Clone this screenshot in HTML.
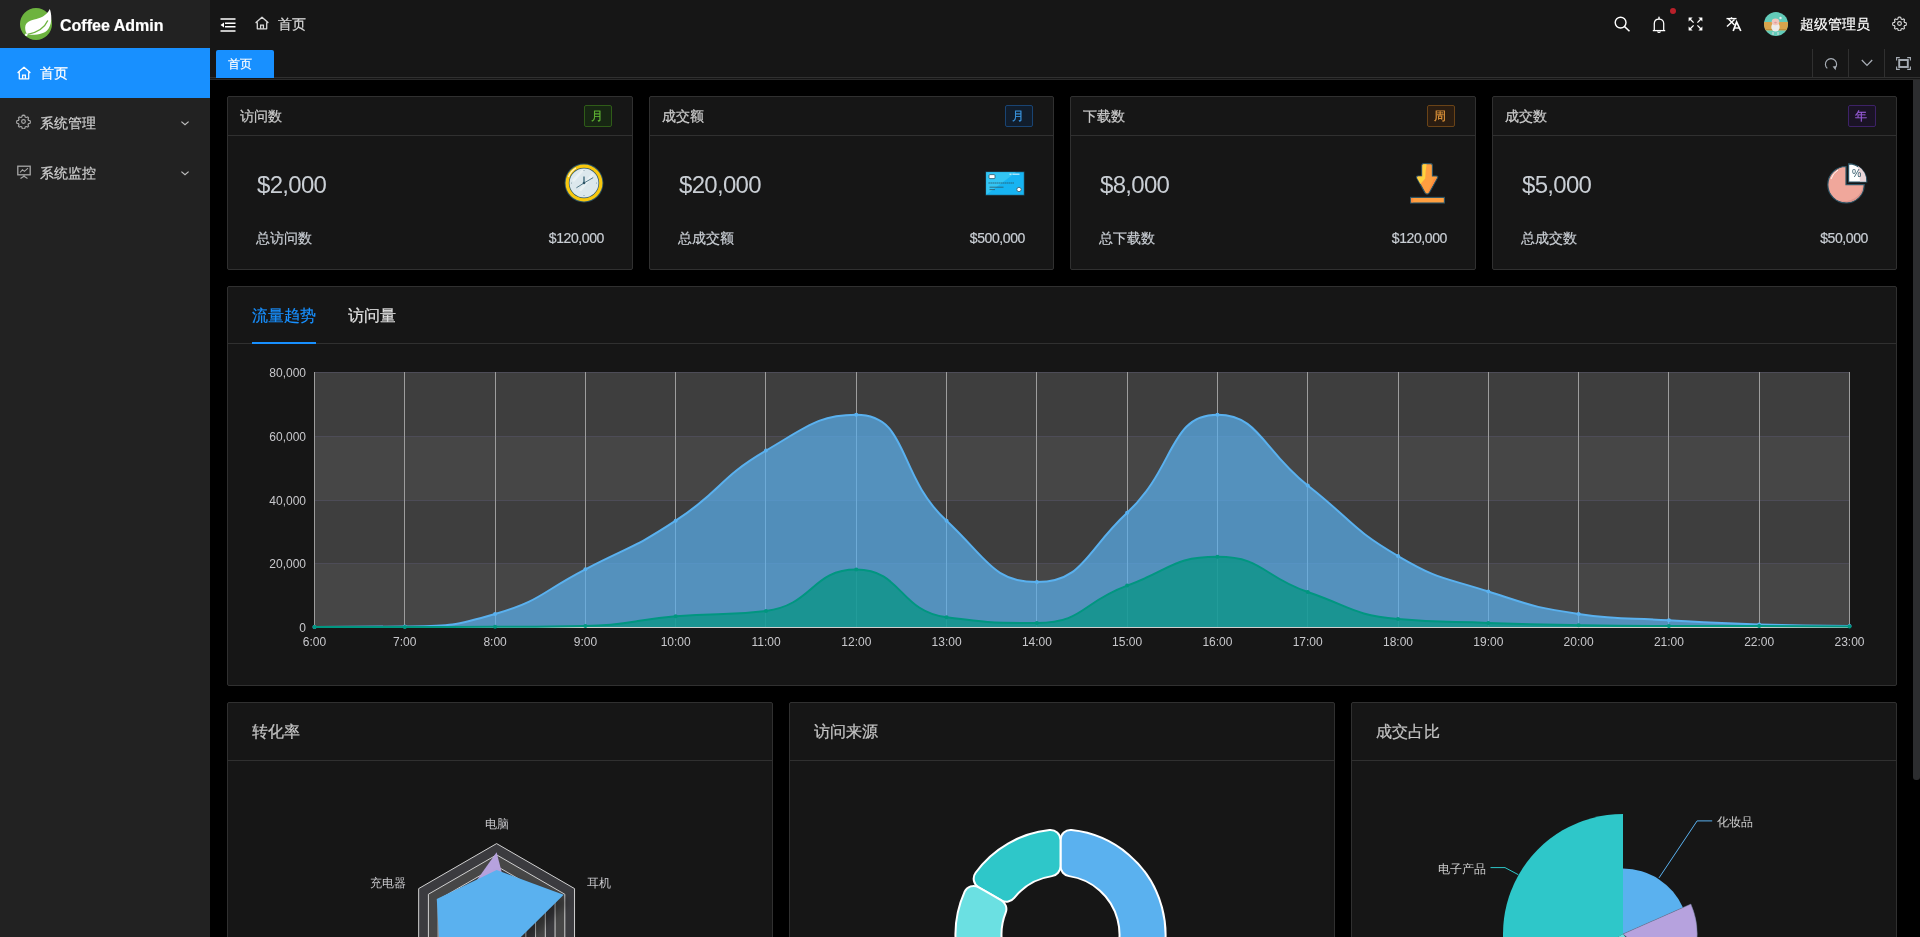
<!DOCTYPE html><html><head><meta charset="utf-8"><title>Coffee Admin</title><style>
*{box-sizing:border-box;margin:0;padding:0}
html,body{width:1920px;height:937px;overflow:hidden;background:#000;font-family:"Liberation Sans",sans-serif;}
.abs{position:absolute}
.t{position:absolute;white-space:nowrap;line-height:1;-webkit-text-stroke:0.2px currentColor}
.big{-webkit-text-stroke:0}
#root{position:absolute;left:0;top:0;width:1920px;height:937px;overflow:hidden;will-change:transform}
.card{position:absolute;background:#161616;border:1px solid #303030;border-radius:2px}
</style></head><body><div id="root">
<div class="abs" style="left:0;top:0;width:210px;height:937px;background:#222222"></div>
<svg class="abs" style="left:20px;top:8px" width="32" height="32" viewBox="0 0 32 32">
<circle cx="16" cy="16" r="16" fill="#6db33f"/>
<path d="M29.8 1.1 C31.8 7 32.2 14.5 28.6 20.6 C25.6 25.6 18.5 27.2 8.4 26.8 C6 25.8 5 22.2 5.2 19.2 C5.6 14.6 9.6 12.6 14.2 11.6 C20.2 10.3 26.4 8.2 29.8 1.1 Z" fill="#fff"/>
<path d="M7.6 26.4 C16 24.6 24.2 20.6 27.8 12.4" fill="none" stroke="#6db33f" stroke-width="1.3"/>
<circle cx="6.3" cy="26.8" r="1.3" fill="#fff"/>
</svg>
<div class="t" style="left:60px;top:18px;font-size:16px;font-weight:bold;color:#fff">Coffee Admin</div>
<div class="abs" style="left:0;top:48px;width:210px;height:50px;background:#1890ff"></div>
<svg class="abs" style="left:17px;top:66px" width="14" height="14" viewBox="0 0 14 14"><path d="M7 1.2 L1 6.6 L2.3 6.6 L2.3 12.8 L11.7 12.8 L11.7 6.6 L13 6.6 Z" fill="none" stroke="#fff" stroke-width="1.3" stroke-linejoin="round"/><path d="M5.6 12.8 V9.2 H8.4 V12.8" fill="none" stroke="#fff" stroke-width="1.3"/></svg>
<div class="t" style="left:40px;top:66px;font-size:14px;color:#fff">首页</div>
<svg class="abs" style="left:16px;top:114px" width="15" height="15" viewBox="0 0 24 24"><path d="M12 1.8l2 .3.6 2.6 1.6.9 2.5-.9 1.4 1.4-.9 2.5.9 1.6 2.6.6.3 2v0l-.3 2-2.6.6-.9 1.6.9 2.5-1.4 1.4-2.5-.9-1.6.9-.6 2.6-2 .3-2-.3-.6-2.6-1.6-.9-2.5.9-1.4-1.4.9-2.5-.9-1.6-2.6-.6-.3-2 .3-2 2.6-.6.9-1.6-.9-2.5 1.4-1.4 2.5.9 1.6-.9.6-2.6z" fill="none" stroke="#a6a6a6" stroke-width="1.9" stroke-linejoin="round"/><circle cx="12" cy="12" r="3" fill="none" stroke="#a6a6a6" stroke-width="1.9"/></svg>
<div class="t" style="left:40px;top:116px;font-size:14px;color:#cfcfcf">系统管理</div>
<svg class="abs" style="left:180px;top:120px" width="10" height="6" viewBox="0 0 10 6"><path d="M1.4 1.6 L5 4.8 L8.6 1.6" fill="none" stroke="#bfbfbf" stroke-width="1.2"/></svg>
<svg class="abs" style="left:17px;top:165px" width="14" height="14" viewBox="0 0 14 14"><rect x="0.8" y="1.2" width="12.4" height="8.6" fill="none" stroke="#a6a6a6" stroke-width="1.3"/><path d="M3 7.5 L5.5 4.8 L7.5 6.4 L11 3.2" fill="none" stroke="#a6a6a6" stroke-width="1.1"/><path d="M7 10 V11.6 M3.5 13.4 L7 11.2 L10.5 13.4" fill="none" stroke="#a6a6a6" stroke-width="1.2"/></svg>
<div class="t" style="left:40px;top:166px;font-size:14px;color:#cfcfcf">系统监控</div>
<svg class="abs" style="left:180px;top:170px" width="10" height="6" viewBox="0 0 10 6"><path d="M1.4 1.6 L5 4.8 L8.6 1.6" fill="none" stroke="#bfbfbf" stroke-width="1.2"/></svg>
<div class="abs" style="left:210px;top:0;width:1710px;height:80px;background:#161616"></div>
<svg class="abs" style="left:220px;top:18px" width="16" height="14" viewBox="0 0 16 14"><path d="M0.5 1 H15.5 M5 5.2 H15.5 M5 8.8 H15.5 M0.5 13 H15.5" stroke="#fff" stroke-width="1.4"/><path d="M0.5 7 L4 4.4 V9.6 Z" fill="#fff"/></svg>
<svg class="abs" style="left:255px;top:16px" width="14" height="14" viewBox="0 0 14 14"><path d="M7 1.2 L1 6.6 L2.3 6.6 L2.3 12.8 L11.7 12.8 L11.7 6.6 L13 6.6 Z" fill="none" stroke="#d9d9d9" stroke-width="1.3" stroke-linejoin="round"/><path d="M5.6 12.8 V9.2 H8.4 V12.8" fill="none" stroke="#d9d9d9" stroke-width="1.3"/></svg>
<div class="t" style="left:278px;top:17px;font-size:14px;color:#d9d9d9">首页</div>
<svg class="abs" style="left:1614px;top:16px" width="17" height="16" viewBox="0 0 17 16"><circle cx="6.6" cy="6.6" r="5.4" fill="none" stroke="#fff" stroke-width="1.4"/><path d="M10.6 10.6 L15.5 15.3" stroke="#fff" stroke-width="1.5"/></svg>
<svg class="abs" style="left:1652px;top:16px" width="14" height="18" viewBox="0 0 14 18"><path d="M2.3 14.4 V7.6 C2.3 4.8 4.3 3 7 3 C9.7 3 11.7 4.8 11.7 7.6 V14.4" fill="none" stroke="#fff" stroke-width="1.25"/><path d="M0.8 14.6 H13.2" stroke="#fff" stroke-width="1.3"/><path d="M5.6 15.4 A1.45 1.45 0 0 0 8.4 15.4" fill="none" stroke="#fff" stroke-width="1.2"/><rect x="6.3" y="0.7" width="1.4" height="2.4" fill="#fff"/></svg>
<div class="abs" style="left:1670px;top:8px;width:6px;height:6px;border-radius:3px;background:#b9202a"></div>
<svg class="abs" style="left:1688px;top:17px" width="15" height="14" viewBox="0 0 15 14"><g stroke="#fff" stroke-width="1.3"><path d="M2 2 L5.6 5.6"/><path d="M13 2 L9.4 5.6"/><path d="M2 12 L5.6 8.4"/><path d="M13 12 L9.4 8.4"/></g><g fill="#fff"><path d="M0.6 0.6 H4.6 L0.6 4.6Z"/><path d="M14.4 0.6 H10.4 L14.4 4.6Z"/><path d="M0.6 13.4 H4.6 L0.6 9.4Z"/><path d="M14.4 13.4 H10.4 L14.4 9.4Z"/></g></svg>
<svg class="abs" style="left:1726px;top:17px" width="16" height="15" viewBox="0 0 16 15"><g stroke="#fff" fill="none" stroke-width="1.4"><path d="M0.5 1.6 H10.5"/><path d="M5.5 0.2 V1.6"/><path d="M2.5 2 L8.5 8"/><path d="M8.5 2.5 L1 9.6"/><path d="M7.2 14 L10.6 5 L14.8 14" stroke-width="1.7"/><path d="M8.6 11 H13.2"/></g></svg>
<svg class="abs" style="left:1764px;top:12px" width="24" height="24" viewBox="0 0 24 24"><defs><clipPath id="av"><circle cx="12" cy="12" r="12"/></clipPath></defs><g clip-path="url(#av)"><rect width="24" height="24" fill="#62cbb9"/><rect x="0" y="10" width="24" height="8.5" fill="#d8a44c"/><path d="M0 17.5 H24" stroke="#b98a3a" stroke-width="0.8"/><ellipse cx="11.5" cy="15" rx="4.2" ry="4.6" fill="#ececec"/><ellipse cx="11.5" cy="9.8" rx="3.8" ry="3.4" fill="#f0c6bc"/><ellipse cx="11.5" cy="10.6" rx="1.3" ry="0.9" fill="#e39a9a"/><circle cx="16.5" cy="6" r="1.2" fill="#e8eeee"/><path d="M9 20 V23 M14 20 V23" stroke="#ddd" stroke-width="1"/></g></svg>
<div class="t" style="left:1800px;top:17px;font-size:14px;color:#fff">超级管理员</div>
<svg class="abs" style="left:1892px;top:16px" width="15" height="15" viewBox="0 0 24 24"><path d="M12 1.8l2 .3.6 2.6 1.6.9 2.5-.9 1.4 1.4-.9 2.5.9 1.6 2.6.6.3 2v0l-.3 2-2.6.6-.9 1.6.9 2.5-1.4 1.4-2.5-.9-1.6.9-.6 2.6-2 .3-2-.3-.6-2.6-1.6-.9-2.5.9-1.4-1.4.9-2.5-.9-1.6-2.6-.6-.3-2 .3-2 2.6-.6.9-1.6-.9-2.5 1.4-1.4 2.5.9 1.6-.9.6-2.6z" fill="none" stroke="#d9d9d9" stroke-width="1.8" stroke-linejoin="round"/><circle cx="12" cy="12" r="3" fill="none" stroke="#d9d9d9" stroke-width="1.8"/></svg>
<div class="abs" style="left:210px;top:77px;width:1710px;height:1px;background:#303030"></div>
<div class="abs" style="left:210px;top:79px;width:1710px;height:1px;background:#2a2a2a"></div>
<div class="abs" style="left:216px;top:50px;width:58px;height:28px;background:#1890ff;border-radius:2px 2px 0 0"></div>
<div class="t" style="left:228px;top:58px;font-size:12px;color:#fff">首页</div>
<div class="abs" style="left:1812px;top:49px;width:1px;height:28px;background:#303030"></div>
<div class="abs" style="left:1848px;top:49px;width:1px;height:28px;background:#303030"></div>
<div class="abs" style="left:1884px;top:49px;width:1px;height:28px;background:#303030"></div>
<svg class="abs" style="left:1824px;top:57px" width="14" height="14" viewBox="0 0 14 14"><path d="M3.3 11.4 A5.6 5.6 0 1 1 10.7 11.4" fill="none" stroke="#a8aeb6" stroke-width="1.15"/><path d="M8.6 9.6 L11.6 13.2 L12.1 9 Z" fill="#a8aeb6"/></svg>
<svg class="abs" style="left:1861px;top:59px" width="12" height="8" viewBox="0 0 12 8"><path d="M0.8 1 L6 6.4 L11.2 1" fill="none" stroke="#a8aeb6" stroke-width="1.3"/></svg>
<svg class="abs" style="left:1896px;top:57px" width="15" height="13" viewBox="0 0 15 13"><g fill="none" stroke="#a8aeb6" stroke-width="1.1"><path d="M0.6 3.6 V0.6 H3.8"/><path d="M11.2 0.6 H14.4 V3.6"/><path d="M0.6 9.4 V12.4 H3.8"/><path d="M11.2 12.4 H14.4 V9.4"/></g><rect x="3.2" y="3" width="8.6" height="7" fill="none" stroke="#a8aeb6" stroke-width="1.9"/></svg>
<div class="abs" style="left:1913px;top:80px;width:7px;height:700px;background:#2c2d2f;border-radius:0 0 3px 3px"></div>
<div class="card" style="left:227px;top:96px;width:406px;height:174px"></div>
<div class="abs" style="left:228px;top:135px;width:404px;height:1px;background:#303030"></div>
<div class="t" style="left:240px;top:109px;font-size:14px;color:rgba(255,255,255,0.72)">访问数</div>
<div class="abs" style="left:584px;top:105px;width:28px;height:22px;border:1px solid #2f5c18;background:#172613;border-radius:2px"></div>
<div class="t" style="left:591px;top:110px;font-size:12px;color:#62b935">月</div>
<div class="t big" style="left:257px;top:173px;font-size:24px;color:#c9ced4;letter-spacing:-0.7px">$2,000</div>
<div class="t" style="left:256px;top:231px;font-size:14px;color:#c9ced4">总访问数</div>
<div class="t" style="right:1316px;top:231px;font-size:14px;color:#c9ced4;letter-spacing:-0.4px">$120,000</div>
<svg class="abs" style="left:564px;top:163px" width="40" height="40" viewBox="0 0 40 40"><circle cx="20" cy="20" r="19.4" fill="#2d5566"/><circle cx="20" cy="20" r="18.5" fill="#f9c80e"/><circle cx="20" cy="20" r="15.2" fill="#2d5566"/><circle cx="20" cy="20" r="14.5" fill="#dce8ed"/><path d="M8 17 L18 6.5 L21 6.5 L10 19 Z M15 27 L28 10 L30 11.5 L17 28.5Z" fill="#e9f1f4"/><path d="M4.5 14 A16.5 16.5 0 0 1 12 5" stroke="#fff6c8" stroke-width="1.2" fill="none"/><path d="M20 20 V13.5" stroke="#3f6b7d" stroke-width="1.4"/><path d="M20 20 L29.2 14.6 M20 20 L12.4 24.8" stroke="#3f6b7d" stroke-width="0.9"/><circle cx="20" cy="20" r="1.3" fill="#2d5566"/><g fill="#7f9aa6"><circle cx="20" cy="7.5" r="0.55"/><circle cx="32.5" cy="20" r="0.55"/><circle cx="7.5" cy="20" r="0.55"/><circle cx="20" cy="32.5" r="0.55"/></g></svg>
<div class="card" style="left:649px;top:96px;width:405px;height:174px"></div>
<div class="abs" style="left:650px;top:135px;width:403px;height:1px;background:#303030"></div>
<div class="t" style="left:662px;top:109px;font-size:14px;color:rgba(255,255,255,0.72)">成交额</div>
<div class="abs" style="left:1005px;top:105px;width:28px;height:22px;border:1px solid #194473;background:#111d2c;border-radius:2px"></div>
<div class="t" style="left:1012px;top:110px;font-size:12px;color:#3c9ae8">月</div>
<div class="t big" style="left:679px;top:173px;font-size:24px;color:#c9ced4;letter-spacing:-0.7px">$20,000</div>
<div class="t" style="left:678px;top:231px;font-size:14px;color:#c9ced4">总成交额</div>
<div class="t" style="right:895px;top:231px;font-size:14px;color:#c9ced4;letter-spacing:-0.4px">$500,000</div>
<svg class="abs" style="left:985px;top:171px" width="40" height="25" viewBox="0 0 40 25"><rect x="0.5" y="0.5" width="39" height="24" fill="#1f4a5c"/><rect x="1.2" y="1.2" width="37.6" height="22.6" fill="#17b4f2"/><path d="M1.2 23.8 L1.2 1.2 L31 1.2 Z" fill="#33c5f3"/><rect x="4" y="3.6" width="6" height="4" rx="1" fill="#fff" stroke="#2d5566" stroke-width="0.8"/><path d="M3.5 12 H29" stroke="#2d5566" stroke-width="1" stroke-dasharray="1.3 0.7"/><path d="M4.5 16.2 H18.5 M4.5 18.6 H10" stroke="#2d5566" stroke-width="0.8"/><path d="M24.5 3.2 H26.5 M27.5 3.2 H34.5" stroke="#fff" stroke-width="0.9"/><circle cx="34" cy="18.5" r="2.2" fill="#fff" stroke="#2d5566" stroke-width="0.8"/></svg>
<div class="card" style="left:1070px;top:96px;width:406px;height:174px"></div>
<div class="abs" style="left:1071px;top:135px;width:404px;height:1px;background:#303030"></div>
<div class="t" style="left:1083px;top:109px;font-size:14px;color:rgba(255,255,255,0.72)">下载数</div>
<div class="abs" style="left:1427px;top:105px;width:28px;height:22px;border:1px solid #6a4317;background:#2b1d11;border-radius:2px"></div>
<div class="t" style="left:1434px;top:110px;font-size:12px;color:#e89a3c">周</div>
<div class="t big" style="left:1100px;top:173px;font-size:24px;color:#c9ced4;letter-spacing:-0.7px">$8,000</div>
<div class="t" style="left:1099px;top:231px;font-size:14px;color:#c9ced4">总下载数</div>
<div class="t" style="right:473px;top:231px;font-size:14px;color:#c9ced4;letter-spacing:-0.4px">$120,000</div>
<svg class="abs" style="left:1410px;top:163px" width="35" height="41" viewBox="0 0 35 41"><path d="M11.8 2.6 Q11.8 0.6 13.8 0.6 H20.4 Q22.4 0.6 22.4 2.6 V13 H26.2 Q28.6 13 27.4 15.1 L19.3 29.6 Q17.1 32.6 14.9 29.6 L6.8 15.1 Q5.6 13 8 13 H11.8 Z" fill="#ff9f40" stroke="#2d5566" stroke-width="1.1"/><path d="M12.4 2.2 Q12.6 1.2 14 1.2 H16.6 Q15.4 8 15.2 15.5 L10.4 21 L7.2 15.2 Q6.9 13.6 8.4 13.6 H12.4 Z" fill="#ffd23f"/><path d="M26.8 14.8 L18.8 29.2 L17.8 29.4 L23.6 16.2 Z" fill="#ff8b3d"/><rect x="0.6" y="34.4" width="33.8" height="5.6" fill="#ff9f40" stroke="#2d5566" stroke-width="1.1"/><rect x="1.2" y="35" width="2" height="4.4" fill="#ff8b3d"/></svg>
<div class="card" style="left:1492px;top:96px;width:405px;height:174px"></div>
<div class="abs" style="left:1493px;top:135px;width:403px;height:1px;background:#303030"></div>
<div class="t" style="left:1505px;top:109px;font-size:14px;color:rgba(255,255,255,0.72)">成交数</div>
<div class="abs" style="left:1848px;top:105px;width:28px;height:22px;border:1px solid #3d2267;background:#1a1325;border-radius:2px"></div>
<div class="t" style="left:1855px;top:110px;font-size:12px;color:#9a5ddc">年</div>
<div class="t big" style="left:1522px;top:173px;font-size:24px;color:#c9ced4;letter-spacing:-0.7px">$5,000</div>
<div class="t" style="left:1521px;top:231px;font-size:14px;color:#c9ced4">总成交数</div>
<div class="t" style="right:52px;top:231px;font-size:14px;color:#c9ced4;letter-spacing:-0.4px">$50,000</div>
<svg class="abs" style="left:1827px;top:163px" width="42" height="41" viewBox="0 0 42 41"><path d="M19 3.5 A18.2 18.2 0 1 0 37.2 21.7 H19 Z" fill="#f0a79b" stroke="#2d5566" stroke-width="1.2"/><path d="M36 22 A18 18 0 0 1 12 37 A16 16 0 0 0 36 22 Z" fill="#dc958d"/><path d="M4 16 A16 16 0 0 1 11 7" stroke="#fff" stroke-width="0.9" fill="none"/><path d="M21.6 0.8 A18.2 18.2 0 0 1 39.8 19 H21.6 Z" fill="#ffffff" stroke="#2d5566" stroke-width="1.2"/><path d="M31 3 A18 18 0 0 1 39.2 18.4 H33 Z" fill="#ead6d9"/><text x="29.6" y="13.9" font-size="10.5" font-family="Liberation Sans" fill="#2d5566" text-anchor="middle">%</text></svg>
<div class="card" style="left:227px;top:286px;width:1670px;height:400px"></div>
<div class="abs" style="left:228px;top:343px;width:1668px;height:1px;background:#303030"></div>
<div class="t" style="left:252px;top:308px;font-size:16px;color:#1890ff">流量趋势</div>
<div class="t" style="left:348px;top:308px;font-size:16px;color:rgba(255,255,255,0.85)">访问量</div>
<div class="abs" style="left:252px;top:342px;width:64px;height:2px;background:#1890ff"></div>
<svg class="abs" style="left:0;top:0" width="1920" height="937" viewBox="0 0 1920 937">
<rect x="314.5" y="372" width="1535.0" height="64" fill="#3e3e3e"/>
<rect x="314.5" y="436" width="1535.0" height="64" fill="#464646"/>
<rect x="314.5" y="500" width="1535.0" height="63" fill="#3e3e3e"/>
<rect x="314.5" y="563" width="1535.0" height="64" fill="#464646"/>
<path d="M314.5 372.5 H1849.5" stroke="#4d4c57" stroke-width="1"/>
<path d="M314.5 436.5 H1849.5" stroke="#4d4c57" stroke-width="1"/>
<path d="M314.5 500.5 H1849.5" stroke="#4d4c57" stroke-width="1"/>
<path d="M314.5 563.5 H1849.5" stroke="#4d4c57" stroke-width="1"/>
<path d="M314.5 372.0 V627.0" stroke="#9d9d9d" stroke-width="1"/>
<path d="M404.5 372.0 V627.0" stroke="#9d9d9d" stroke-width="1"/>
<path d="M495.5 372.0 V627.0" stroke="#9d9d9d" stroke-width="1"/>
<path d="M585.5 372.0 V627.0" stroke="#9d9d9d" stroke-width="1"/>
<path d="M675.5 372.0 V627.0" stroke="#9d9d9d" stroke-width="1"/>
<path d="M765.5 372.0 V627.0" stroke="#9d9d9d" stroke-width="1"/>
<path d="M856.5 372.0 V627.0" stroke="#9d9d9d" stroke-width="1"/>
<path d="M946.5 372.0 V627.0" stroke="#9d9d9d" stroke-width="1"/>
<path d="M1036.5 372.0 V627.0" stroke="#9d9d9d" stroke-width="1"/>
<path d="M1127.5 372.0 V627.0" stroke="#9d9d9d" stroke-width="1"/>
<path d="M1217.5 372.0 V627.0" stroke="#9d9d9d" stroke-width="1"/>
<path d="M1307.5 372.0 V627.0" stroke="#9d9d9d" stroke-width="1"/>
<path d="M1398.5 372.0 V627.0" stroke="#9d9d9d" stroke-width="1"/>
<path d="M1488.5 372.0 V627.0" stroke="#9d9d9d" stroke-width="1"/>
<path d="M1578.5 372.0 V627.0" stroke="#9d9d9d" stroke-width="1"/>
<path d="M1668.5 372.0 V627.0" stroke="#9d9d9d" stroke-width="1"/>
<path d="M1759.5 372.0 V627.0" stroke="#9d9d9d" stroke-width="1"/>
<path d="M1849.5 372.0 V627.0" stroke="#9d9d9d" stroke-width="1"/>
<path d="M314.5 627.5 H1849.5" stroke="#cfcfcf" stroke-width="1"/>
<path d="M314.50 627.00 C314.50 627.00 359.86 627.00 404.79 626.50 C450.16 626.00 452.20 626.50 495.09 614.00 C542.49 600.18 540.63 592.42 585.38 569.30 C630.93 545.77 632.98 548.76 675.68 520.70 C723.27 489.41 717.16 479.23 765.97 450.60 C807.45 426.28 819.15 414.80 856.26 414.80 C909.44 414.80 895.96 473.83 946.56 520.70 C986.26 557.48 992.66 582.10 1036.85 582.10 C1082.95 582.10 1085.53 551.26 1127.15 512.70 C1175.82 467.61 1168.92 414.80 1217.44 414.80 C1259.22 414.80 1262.56 450.18 1307.74 485.50 C1352.86 520.78 1349.14 527.30 1398.03 556.00 C1439.43 580.30 1442.23 576.72 1488.32 591.50 C1532.52 605.67 1532.85 607.32 1578.62 613.90 C1623.15 620.30 1623.73 617.62 1668.91 620.30 C1714.03 622.97 1714.04 623.20 1759.21 624.60 C1804.33 626.00 1849.50 626.00 1849.50 626.00 L1849.50 627.00 L314.50 627.00 Z" fill="#5ab1ef" fill-opacity="0.7"/>
<path d="M314.50 627.00 C314.50 627.00 359.86 627.00 404.79 626.50 C450.16 626.00 452.20 626.50 495.09 614.00 C542.49 600.18 540.63 592.42 585.38 569.30 C630.93 545.77 632.98 548.76 675.68 520.70 C723.27 489.41 717.16 479.23 765.97 450.60 C807.45 426.28 819.15 414.80 856.26 414.80 C909.44 414.80 895.96 473.83 946.56 520.70 C986.26 557.48 992.66 582.10 1036.85 582.10 C1082.95 582.10 1085.53 551.26 1127.15 512.70 C1175.82 467.61 1168.92 414.80 1217.44 414.80 C1259.22 414.80 1262.56 450.18 1307.74 485.50 C1352.86 520.78 1349.14 527.30 1398.03 556.00 C1439.43 580.30 1442.23 576.72 1488.32 591.50 C1532.52 605.67 1532.85 607.32 1578.62 613.90 C1623.15 620.30 1623.73 617.62 1668.91 620.30 C1714.03 622.97 1714.04 623.20 1759.21 624.60 C1804.33 626.00 1849.50 626.00 1849.50 626.00" fill="none" stroke="#5ab1ef" stroke-width="2"/>
<circle cx="314.50" cy="627.00" r="2" fill="#5ab1ef"/>
<circle cx="404.79" cy="626.50" r="2" fill="#5ab1ef"/>
<circle cx="495.09" cy="614.00" r="2" fill="#5ab1ef"/>
<circle cx="585.38" cy="569.30" r="2" fill="#5ab1ef"/>
<circle cx="675.68" cy="520.70" r="2" fill="#5ab1ef"/>
<circle cx="765.97" cy="450.60" r="2" fill="#5ab1ef"/>
<circle cx="856.26" cy="414.80" r="2" fill="#5ab1ef"/>
<circle cx="946.56" cy="520.70" r="2" fill="#5ab1ef"/>
<circle cx="1036.85" cy="582.10" r="2" fill="#5ab1ef"/>
<circle cx="1127.15" cy="512.70" r="2" fill="#5ab1ef"/>
<circle cx="1217.44" cy="414.80" r="2" fill="#5ab1ef"/>
<circle cx="1307.74" cy="485.50" r="2" fill="#5ab1ef"/>
<circle cx="1398.03" cy="556.00" r="2" fill="#5ab1ef"/>
<circle cx="1488.32" cy="591.50" r="2" fill="#5ab1ef"/>
<circle cx="1578.62" cy="613.90" r="2" fill="#5ab1ef"/>
<circle cx="1668.91" cy="620.30" r="2" fill="#5ab1ef"/>
<circle cx="1759.21" cy="624.60" r="2" fill="#5ab1ef"/>
<circle cx="1849.50" cy="626.00" r="2" fill="#5ab1ef"/>
<path d="M314.50 627.00 C314.50 627.00 359.65 627.00 404.79 627.00 C449.94 627.00 449.94 627.00 495.09 626.80 C540.24 626.60 540.36 626.80 585.38 626.00 C630.66 625.20 630.44 620.08 675.68 616.30 C720.73 612.53 722.93 616.30 765.97 610.90 C813.22 604.97 811.75 569.60 856.26 569.60 C902.05 569.60 898.68 610.98 946.56 617.30 C988.97 622.90 993.44 622.90 1036.85 622.90 C1083.73 622.90 1081.32 602.38 1127.15 585.60 C1171.61 569.33 1172.80 556.80 1217.44 556.80 C1263.09 556.80 1261.95 576.26 1307.74 592.00 C1352.25 607.31 1351.94 614.73 1398.03 618.90 C1442.24 622.90 1443.16 621.32 1488.32 622.90 C1533.46 624.47 1533.46 624.42 1578.62 625.20 C1623.76 625.97 1623.76 626.00 1668.91 626.00 C1714.06 626.00 1714.06 626.00 1759.21 626.00 C1804.35 626.00 1849.50 626.50 1849.50 626.50 L1849.50 627.00 L314.50 627.00 Z" fill="#019680" fill-opacity="0.7"/>
<path d="M314.50 627.00 C314.50 627.00 359.65 627.00 404.79 627.00 C449.94 627.00 449.94 627.00 495.09 626.80 C540.24 626.60 540.36 626.80 585.38 626.00 C630.66 625.20 630.44 620.08 675.68 616.30 C720.73 612.53 722.93 616.30 765.97 610.90 C813.22 604.97 811.75 569.60 856.26 569.60 C902.05 569.60 898.68 610.98 946.56 617.30 C988.97 622.90 993.44 622.90 1036.85 622.90 C1083.73 622.90 1081.32 602.38 1127.15 585.60 C1171.61 569.33 1172.80 556.80 1217.44 556.80 C1263.09 556.80 1261.95 576.26 1307.74 592.00 C1352.25 607.31 1351.94 614.73 1398.03 618.90 C1442.24 622.90 1443.16 621.32 1488.32 622.90 C1533.46 624.47 1533.46 624.42 1578.62 625.20 C1623.76 625.97 1623.76 626.00 1668.91 626.00 C1714.06 626.00 1714.06 626.00 1759.21 626.00 C1804.35 626.00 1849.50 626.50 1849.50 626.50" fill="none" stroke="#019680" stroke-width="2"/>
<circle cx="314.50" cy="627.00" r="2" fill="#019680"/>
<circle cx="404.79" cy="627.00" r="2" fill="#019680"/>
<circle cx="495.09" cy="626.80" r="2" fill="#019680"/>
<circle cx="585.38" cy="626.00" r="2" fill="#019680"/>
<circle cx="675.68" cy="616.30" r="2" fill="#019680"/>
<circle cx="765.97" cy="610.90" r="2" fill="#019680"/>
<circle cx="856.26" cy="569.60" r="2" fill="#019680"/>
<circle cx="946.56" cy="617.30" r="2" fill="#019680"/>
<circle cx="1036.85" cy="622.90" r="2" fill="#019680"/>
<circle cx="1127.15" cy="585.60" r="2" fill="#019680"/>
<circle cx="1217.44" cy="556.80" r="2" fill="#019680"/>
<circle cx="1307.74" cy="592.00" r="2" fill="#019680"/>
<circle cx="1398.03" cy="618.90" r="2" fill="#019680"/>
<circle cx="1488.32" cy="622.90" r="2" fill="#019680"/>
<circle cx="1578.62" cy="625.20" r="2" fill="#019680"/>
<circle cx="1668.91" cy="626.00" r="2" fill="#019680"/>
<circle cx="1759.21" cy="626.00" r="2" fill="#019680"/>
<circle cx="1849.50" cy="626.50" r="2" fill="#019680"/>
<text x="306" y="377.1" font-size="12" fill="#c8c8cc" text-anchor="end" font-family="Liberation Sans">80,000</text>
<text x="306" y="440.9" font-size="12" fill="#c8c8cc" text-anchor="end" font-family="Liberation Sans">60,000</text>
<text x="306" y="504.6" font-size="12" fill="#c8c8cc" text-anchor="end" font-family="Liberation Sans">40,000</text>
<text x="306" y="568.4" font-size="12" fill="#c8c8cc" text-anchor="end" font-family="Liberation Sans">20,000</text>
<text x="306" y="632.1" font-size="12" fill="#c8c8cc" text-anchor="end" font-family="Liberation Sans">0</text>
<text x="314.5" y="646" font-size="12" fill="#c8c8cc" text-anchor="middle" font-family="Liberation Sans">6:00</text>
<text x="404.8" y="646" font-size="12" fill="#c8c8cc" text-anchor="middle" font-family="Liberation Sans">7:00</text>
<text x="495.1" y="646" font-size="12" fill="#c8c8cc" text-anchor="middle" font-family="Liberation Sans">8:00</text>
<text x="585.4" y="646" font-size="12" fill="#c8c8cc" text-anchor="middle" font-family="Liberation Sans">9:00</text>
<text x="675.7" y="646" font-size="12" fill="#c8c8cc" text-anchor="middle" font-family="Liberation Sans">10:00</text>
<text x="766.0" y="646" font-size="12" fill="#c8c8cc" text-anchor="middle" font-family="Liberation Sans">11:00</text>
<text x="856.3" y="646" font-size="12" fill="#c8c8cc" text-anchor="middle" font-family="Liberation Sans">12:00</text>
<text x="946.6" y="646" font-size="12" fill="#c8c8cc" text-anchor="middle" font-family="Liberation Sans">13:00</text>
<text x="1036.9" y="646" font-size="12" fill="#c8c8cc" text-anchor="middle" font-family="Liberation Sans">14:00</text>
<text x="1127.1" y="646" font-size="12" fill="#c8c8cc" text-anchor="middle" font-family="Liberation Sans">15:00</text>
<text x="1217.4" y="646" font-size="12" fill="#c8c8cc" text-anchor="middle" font-family="Liberation Sans">16:00</text>
<text x="1307.7" y="646" font-size="12" fill="#c8c8cc" text-anchor="middle" font-family="Liberation Sans">17:00</text>
<text x="1398.0" y="646" font-size="12" fill="#c8c8cc" text-anchor="middle" font-family="Liberation Sans">18:00</text>
<text x="1488.3" y="646" font-size="12" fill="#c8c8cc" text-anchor="middle" font-family="Liberation Sans">19:00</text>
<text x="1578.6" y="646" font-size="12" fill="#c8c8cc" text-anchor="middle" font-family="Liberation Sans">20:00</text>
<text x="1668.9" y="646" font-size="12" fill="#c8c8cc" text-anchor="middle" font-family="Liberation Sans">21:00</text>
<text x="1759.2" y="646" font-size="12" fill="#c8c8cc" text-anchor="middle" font-family="Liberation Sans">22:00</text>
<text x="1849.5" y="646" font-size="12" fill="#c8c8cc" text-anchor="middle" font-family="Liberation Sans">23:00</text>
</svg>
<div class="card" style="left:227px;top:702px;width:546px;height:260px"></div>
<div class="abs" style="left:228px;top:760px;width:544px;height:1px;background:#303030"></div>
<div class="t" style="left:252px;top:724px;font-size:16px;color:rgba(255,255,255,0.7)">转化率</div>
<div class="card" style="left:789px;top:702px;width:546px;height:260px"></div>
<div class="abs" style="left:790px;top:760px;width:544px;height:1px;background:#303030"></div>
<div class="t" style="left:814px;top:724px;font-size:16px;color:rgba(255,255,255,0.7)">访问来源</div>
<div class="card" style="left:1351px;top:702px;width:546px;height:260px"></div>
<div class="abs" style="left:1352px;top:760px;width:544px;height:1px;background:#303030"></div>
<div class="t" style="left:1376px;top:724px;font-size:16px;color:rgba(255,255,255,0.7)">成交占比</div>
<svg class="abs" style="left:0;top:0" width="1920" height="937" viewBox="0 0 1920 937"><defs><clipPath id="cb"><rect x="0" y="761" width="1912" height="176"/></clipPath><filter id="sh" x="-50%" y="-50%" width="200%" height="200%"><feGaussianBlur stdDeviation="4"/></filter></defs><g clip-path="url(#cb)">
<path d="M496.60 843.60 L574.54 888.60 L574.54 978.60 L496.60 1023.60 L418.66 978.60 L418.66 888.60 Z" fill="#3b3b3f"/>
<path d="M496.60 854.85 L564.80 894.23 L564.80 972.98 L496.60 1012.35 L428.40 972.98 L428.40 894.23 Z" fill="#474747"/>
<path d="M496.60 866.10 L555.06 899.85 L555.06 967.35 L496.60 1001.10 L438.14 967.35 L438.14 899.85 Z" fill="#3b3b3f"/>
<path d="M496.60 877.35 L545.31 905.48 L545.31 961.73 L496.60 989.85 L447.89 961.73 L447.89 905.48 Z" fill="#474747"/>
<path d="M496.60 888.60 L535.57 911.10 L535.57 956.10 L496.60 978.60 L457.63 956.10 L457.63 911.10 Z" fill="#3b3b3f"/>
<path d="M496.60 899.85 L525.83 916.73 L525.83 950.48 L496.60 967.35 L467.37 950.48 L467.37 916.73 Z" fill="#474747"/>
<path d="M496.60 911.10 L516.09 922.35 L516.09 944.85 L496.60 956.10 L477.11 944.85 L477.11 922.35 Z" fill="#3b3b3f"/>
<path d="M496.60 922.35 L506.34 927.98 L506.34 939.23 L496.60 944.85 L486.86 939.23 L486.86 927.98 Z" fill="#474747"/>
<path d="M496.60 843.60 L574.54 888.60 L574.54 978.60 L496.60 1023.60 L418.66 978.60 L418.66 888.60 Z" fill="none" stroke="#d0d0d0" stroke-width="1"/>
<path d="M496.60 854.85 L564.80 894.23 L564.80 972.98 L496.60 1012.35 L428.40 972.98 L428.40 894.23 Z" fill="none" stroke="#d0d0d0" stroke-width="1"/>
<path d="M496.60 866.10 L555.06 899.85 L555.06 967.35 L496.60 1001.10 L438.14 967.35 L438.14 899.85 Z" fill="none" stroke="#d0d0d0" stroke-width="1"/>
<path d="M496.60 877.35 L545.31 905.48 L545.31 961.73 L496.60 989.85 L447.89 961.73 L447.89 905.48 Z" fill="none" stroke="#d0d0d0" stroke-width="1"/>
<path d="M496.60 888.60 L535.57 911.10 L535.57 956.10 L496.60 978.60 L457.63 956.10 L457.63 911.10 Z" fill="none" stroke="#d0d0d0" stroke-width="1"/>
<path d="M496.60 899.85 L525.83 916.73 L525.83 950.48 L496.60 967.35 L467.37 950.48 L467.37 916.73 Z" fill="none" stroke="#d0d0d0" stroke-width="1"/>
<path d="M496.60 911.10 L516.09 922.35 L516.09 944.85 L496.60 956.10 L477.11 944.85 L477.11 922.35 Z" fill="none" stroke="#d0d0d0" stroke-width="1"/>
<path d="M496.60 922.35 L506.34 927.98 L506.34 939.23 L496.60 944.85 L486.86 939.23 L486.86 927.98 Z" fill="none" stroke="#d0d0d0" stroke-width="1"/>
<path d="M496.60 852.30 L514.79 923.10 L513.92 943.60 L496.60 963.60 L461.96 953.60 L455.64 909.95 Z" fill="#b6a2de"/>
<path d="M496.60 870.00 L563.72 894.85 L514.09 943.70 L496.60 953.60 L440.74 965.85 L436.76 899.05 Z" fill="#000" fill-opacity="0.35" transform="translate(6,6)" filter="url(#sh)"/>
<path d="M496.60 870.00 L563.72 894.85 L514.09 943.70 L496.60 953.60 L440.74 965.85 L436.76 899.05 Z" fill="#5ab1ef"/>
<text x="496.6" y="828" font-size="12" fill="#c8c8cc" text-anchor="middle" font-family="Liberation Sans">电脑</text>
<text x="587" y="887" font-size="12" fill="#c8c8cc" font-family="Liberation Sans">耳机</text>
<text x="405.5" y="887" font-size="12" fill="#c8c8cc" text-anchor="end" font-family="Liberation Sans">充电器</text>
<g stroke="#fff" stroke-width="2" stroke-linejoin="round">
<path d="M1071.55 830.08 A105.00 105.00 0 0 1 1122.28 1019.40 A10.00 10.00 0 0 1 1107.74 1016.32 L1094.64 993.62 A10.00 10.00 0 0 1 1097.09 980.78 A59.00 59.00 0 0 0 1069.05 876.12 A10.00 10.00 0 0 1 1060.50 866.23 L1060.50 840.03 A10.00 10.00 0 0 1 1071.55 830.08 Z" fill="#5ab1ef"/>
<path d="M975.60 872.72 A105.00 105.00 0 0 1 1049.45 830.08 A10.00 10.00 0 0 1 1060.50 840.03 L1060.50 866.23 A10.00 10.00 0 0 1 1051.95 876.12 A59.00 59.00 0 0 0 1014.22 897.91 A10.00 10.00 0 0 1 1001.38 900.36 L978.68 887.26 A10.00 10.00 0 0 1 975.60 872.72 Z" fill="#2ec7c9"/>
<path d="M984.92 1007.38 A105.00 105.00 0 0 1 964.55 891.86 A10.00 10.00 0 0 1 978.68 887.26 L1001.38 900.36 A10.00 10.00 0 0 1 1005.67 912.72 A59.00 59.00 0 0 0 1016.43 973.72 A10.00 10.00 0 0 1 1016.62 986.80 L999.77 1006.87 A10.00 10.00 0 0 1 984.92 1007.38 Z" fill="#6be0e2"/>
</g>
<path d="M1623.00 934.00 L1520.14 995.80 A120.00 120.00 0 0 1 1623.00 814.00 Z" fill="#2ec7c9"/>
<path d="M1623.00 934.00 L1623.00 868.50 A65.50 65.50 0 0 1 1682.93 907.57 Z" fill="#5ab1ef"/>
<path d="M1623.00 934.00 L1690.89 904.06 A74.20 74.20 0 0 1 1679.84 981.69 Z" fill="#b6a2de" stroke="#6d7a99" stroke-width="0.5"/>
<path d="M1623.00 934.00 L1660.76 980.63 A60.00 60.00 0 0 1 1571.04 964.00 Z" fill="#6be0e2"/>
<path d="M1659 877.9 L1697.1 820.9 H1712.2" fill="none" stroke="#5ab1ef" stroke-width="1"/>
<path d="M1518.3 874.7 L1505 867.6 H1490.5" fill="none" stroke="#2ec7c9" stroke-width="1"/>
<text x="1717" y="826" font-size="12" fill="#d0d0d0" font-family="Liberation Sans">化妆品</text>
<text x="1485.5" y="873" font-size="12" fill="#d0d0d0" text-anchor="end" font-family="Liberation Sans">电子产品</text>
</g></svg>
</div></body></html>
